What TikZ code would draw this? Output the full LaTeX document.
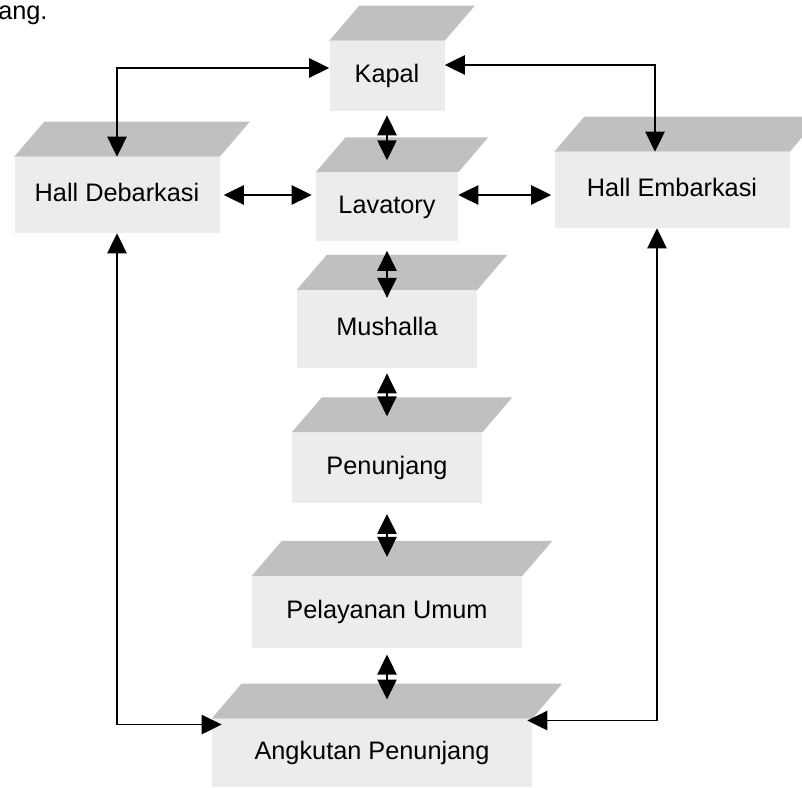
\documentclass[tikz,border=0pt]{standalone}
\usepackage{fontspec}
\setmainfont{Liberation Sans}
\usepackage{tikz}
\usetikzlibrary{positioning, arrows.meta}
\definecolor{slabtop}{RGB}{192,192,192}
\definecolor{slabfront}{RGB}{236,236,236}

\begin{document}
\begin{tikzpicture}[>={Triangle[length=0.5cm, width=0.48cm]},
            every node/.style={font=\fontsize{18}{21}\selectfont},
            room/.style={rectangle, fill=slabfront, inner sep=0pt,
            text height=0.45cm, text depth=0.12cm},
            link/.style={<->, line width=1.3pt}]
          \useasboundingbox (0,0) rectangle (20.05,-19.7);
          \node[anchor=base west, inner sep=0pt] (sisa) at (-0.05,-0.5) {ang.};
          \node[room, minimum width=2.875cm, minimum height=1.75cm] (kapal) at (9.675,-1.9) {Kapal};
          \node[room, minimum width=5.125cm, minimum height=1.9cm] (hdeb) at (2.925,-4.875) {Hall Debarkasi};
          \node[room, minimum width=5.875cm, minimum height=1.9cm] (hemb) at (16.8,-4.75) {Hall Embarkasi};
          \node[room, minimum width=3.55cm, minimum height=1.7cm, below=1.525cm of kapal] (lav) {Lavatory};
          \node[room, minimum width=4.5cm, minimum height=1.95cm, below=1.225cm of lav] (mush) {Mushalla};
          \node[room, minimum width=4.75cm, minimum height=1.75cm, below=1.6cm of mush] (pen) {Penunjang};
          \node[room, minimum width=6.75cm, minimum height=1.8cm, below=1.825cm of pen] (pel) {Pelayanan Umum};
          \node[room, minimum width=8cm, minimum height=1.7cm, below=1.75cm of pel, xshift=-0.375cm] (ang) {Angkutan Penunjang};
          \foreach \n in {kapal, hdeb, hemb, lav, mush, pen, pel, ang}
            \fill[slabtop] (\n.north west) -- ++(0.75,0.875)
              -- ([shift={(0.75,0.875)}]\n.north east) -- (\n.north east) -- cycle;
          \draw[link] ([yshift=0.2cm]kapal.west) -| (hdeb.north);
          \draw[link] ([yshift=0.275cm]kapal.east) -| ([xshift=-0.425cm]hemb.north);
          \draw[link, shorten <=0.1cm, shorten >=0.1cm] (hdeb.east) -- (hdeb.east -| lav.west);
          \draw[link, shorten >=0.075cm] (lav.east |- hdeb.east) -- (hemb.west |- hdeb.east);
          \draw[link] (hdeb.south) |- ([shift={(0.25,-0.15)}]ang.north west);
          \draw[link] ([xshift=-0.375cm]hemb.south) |- ([shift={(-0.125,-0.05)}]ang.north east);
          \draw[link, shorten <=0.1cm, shorten >=0.3cm] (kapal.south) -- (kapal.south |- lav.north);
          \draw[link, shorten <=0.25cm, shorten >=-0.2cm] (lav.south) -- (lav.south |- mush.north);
          \draw[link, shorten <=0.125cm, shorten >=0.4cm] (mush.south) -- (mush.south |- pen.north);
          \draw[link, shorten <=0.275cm, shorten >=0.475cm] (pen.south) -- (pen.south |- pel.north);
          \draw[link, shorten <=0.15cm, shorten >=0.475cm] (pel.south) -- (pel.south |- ang.north);
        \end{tikzpicture}
\end{document}
